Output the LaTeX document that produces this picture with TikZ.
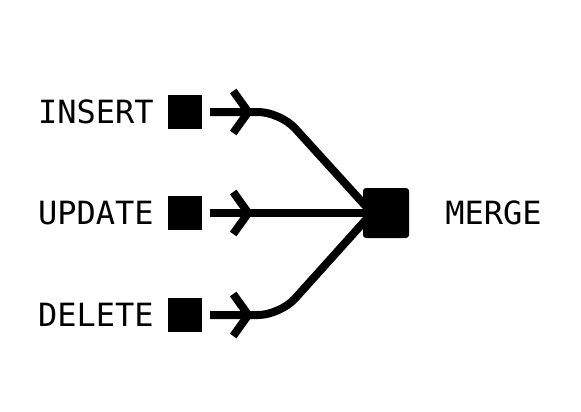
\documentclass[tikz,border=0pt]{standalone}
\usepackage{fontspec}
\setmonofont{DejaVu Sans Mono}
\usetikzlibrary{positioning, decorations.markings}

\begin{document}
\begin{tikzpicture}[x=1pt, y=-1pt,
      every node/.style={font=\ttfamily\fontsize{32}{32}\selectfont, inner sep=0pt},
      src/.style={fill=black, minimum size=34pt},
      flow/.style={line width=8pt, rounded corners=22pt, postaction={decorate},
        decoration={markings, mark=at position 38pt with
          {\draw[line width=8pt, sharp corners] (-15pt,21pt) -- (0,0) -- (-15pt,-21pt);}}}]
    \useasboundingbox (0,0) rectangle (581,412);
    % sources
    \node[src] (ins) at (185,112) {};
    \node[src] (upd) at (185,213) {};
    \node[src] (del) at (185,315) {};
    \node[left=14pt of ins] (insl) {INSERT};
    \node[left=14pt of upd] (updl) {UPDATE};
    \node[left=14pt of del] (dell) {DELETE};
    % target
    \node[fill=black, minimum width=46pt, minimum height=50pt, rounded corners=3pt] (mrg) at (386,213) {};
    \node[right=36pt of mrg] (mrgl) {MERGE};
    \coordinate (hub) at ([xshift=-14pt]mrg.center);
    % flows
    \draw[flow] ([xshift=8pt]ins.east) -- ([xshift=78pt]ins.east) -- (hub);
    \draw[flow] ([xshift=8pt]upd.east) -- (hub);
    \draw[flow] ([xshift=8pt]del.east) -- ([xshift=78pt]del.east) -- (hub);
\end{tikzpicture}
\end{document}
